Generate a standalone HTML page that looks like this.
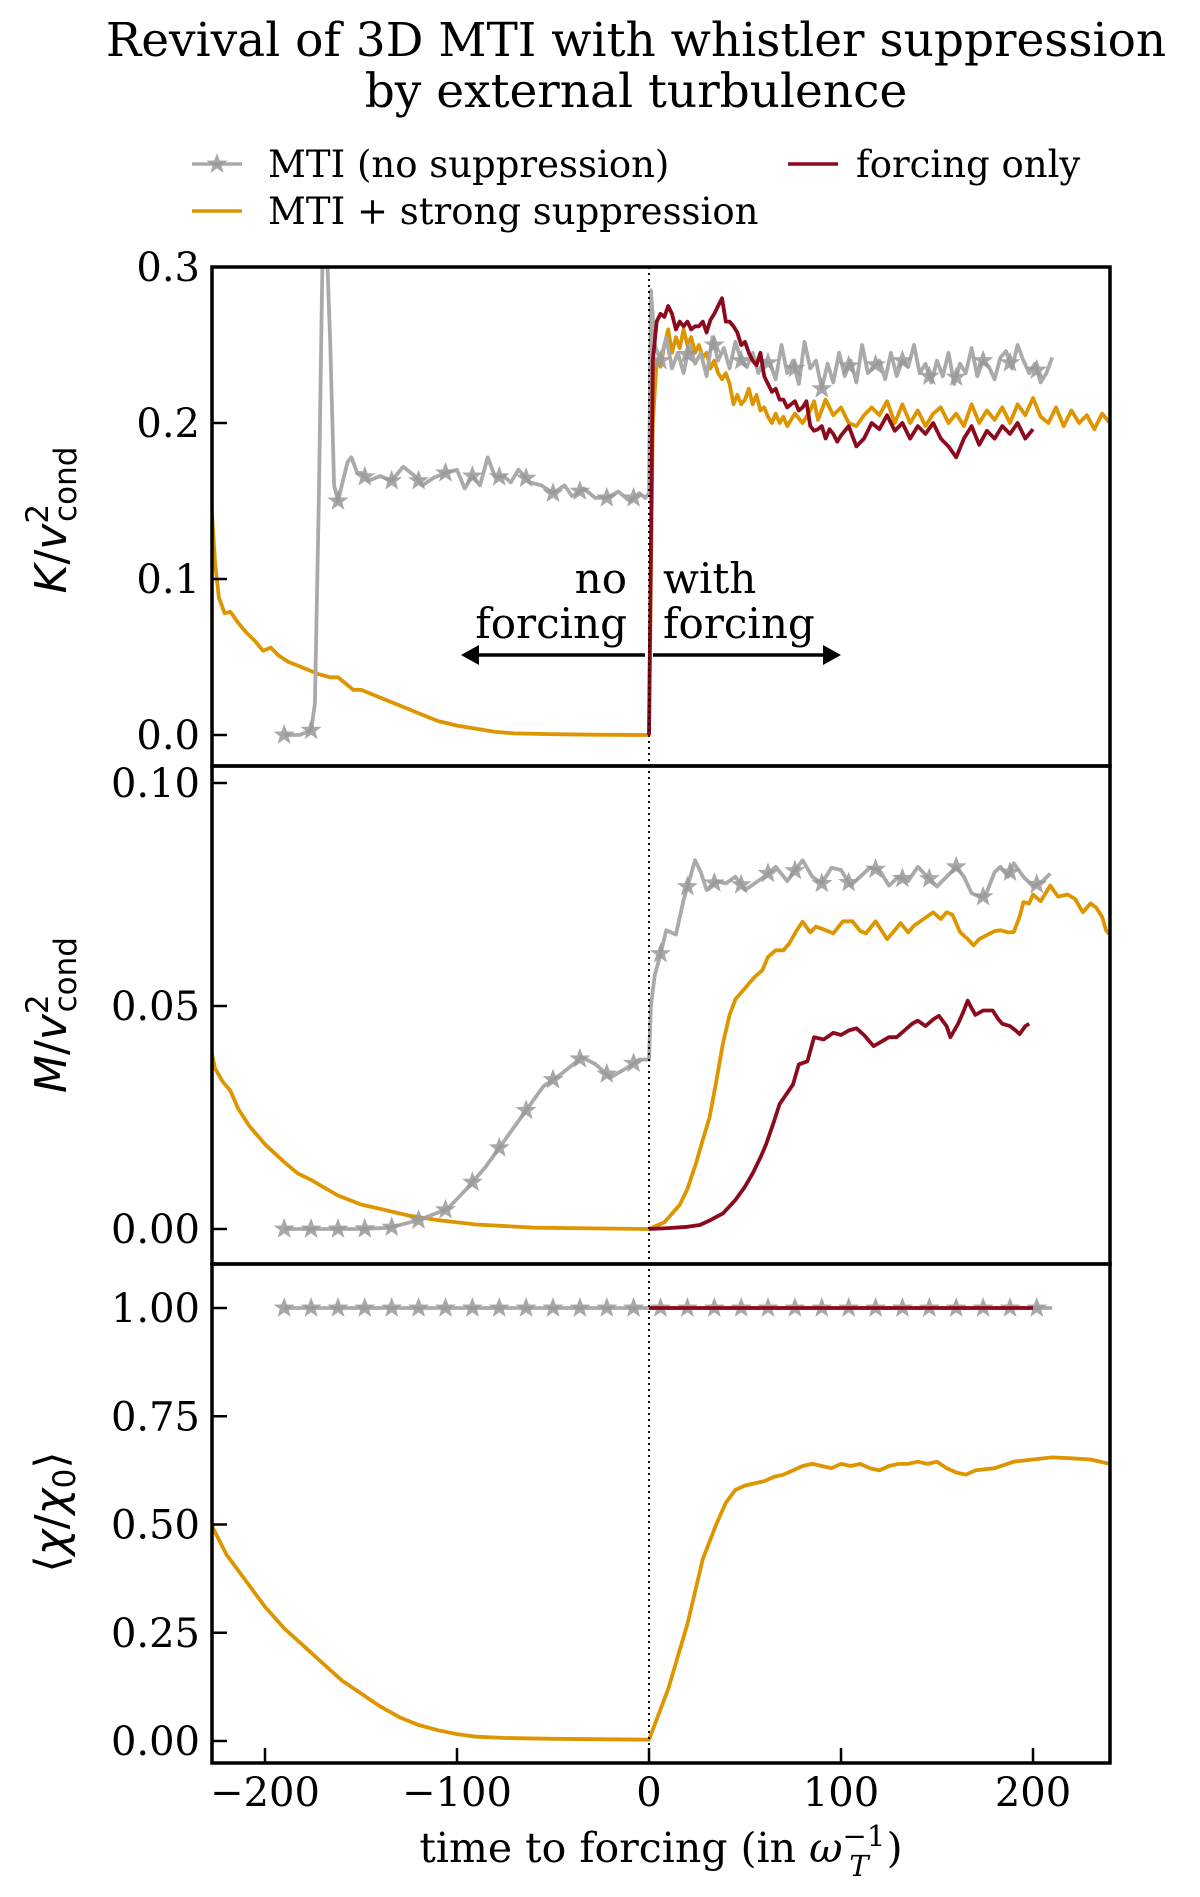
<!DOCTYPE html>
<html><head><meta charset="utf-8"><style>
html,body{margin:0;padding:0;background:#fff;}
svg{display:block;}
.serif{font-family:"DejaVu Serif","Liberation Serif",serif;}
</style></head><body>
<svg id="chart" width="1200" height="1897" viewBox="0 0 1200 1897" xmlns="http://www.w3.org/2000/svg">
<defs>
<clipPath id="c1"><rect x="212" y="267" width="898" height="499"/></clipPath>
<clipPath id="c2"><rect x="212" y="766" width="898" height="498"/></clipPath>
<clipPath id="c3"><rect x="212" y="1264" width="898" height="499"/></clipPath>
<path id="star" d="M0,-11 L2.8,-3.5 L10.5,-3.4 L4.4,1.3 L6.5,8.9 L0,4.4 L-6.5,8.9 L-4.4,1.3 L-10.5,-3.4 L-2.8,-3.5Z"/>
</defs>
<g class="serif" font-size="47" text-anchor="middle">
<text x="636" y="56">Revival of 3D MTI with whistler suppression</text>
<text x="636" y="107">by external turbulence</text>
</g>
<g class="serif" font-size="37">
<g>
<line x1="192" y1="164" x2="242" y2="164" stroke="#aaa" stroke-width="3.5"/>
<use href="#star" x="217" y="164" fill="#999" opacity="0.85"/>
<text x="268" y="177">MTI (no suppression)</text></g>
<g>
<line x1="788" y1="164" x2="838" y2="164" stroke="#8b0a1e" stroke-width="3.5"/>
<text x="856" y="177">forcing only</text></g>
<g>
<line x1="192" y1="211" x2="242" y2="211" stroke="#dd9500" stroke-width="3.5"/>
<text x="268" y="224">MTI + strong suppression</text></g>
</g>
<g id="plots"></g>
<g id="axes"></g>
<g class="serif" font-size="42">
<text x="627" y="593" text-anchor="end">no</text>
<text x="627" y="638" text-anchor="end">forcing</text>
<text x="663" y="593">with</text>
<text x="663" y="638">forcing</text>
<line x1="476" y1="655" x2="645" y2="655" stroke="#000" stroke-width="3.5"/>
<polygon points="461,655 479,645 479,665" fill="#000"/>
<line x1="653" y1="655" x2="826" y2="655" stroke="#000" stroke-width="3.5"/>
<polygon points="841,655 823,645 823,665" fill="#000"/>
</g>
<g font-family="DejaVu Sans, Liberation Sans, sans-serif" font-size="44">
<text transform="translate(66,520) rotate(-90)" text-anchor="middle"><tspan font-style="italic">K</tspan>/<tspan font-style="italic">v</tspan><tspan font-size="31" dy="-18">2</tspan><tspan font-size="31" dx="-18" dy="28">cond</tspan></text>
<text transform="translate(66,1015) rotate(-90)" text-anchor="middle"><tspan font-style="italic">M</tspan>/<tspan font-style="italic">v</tspan><tspan font-size="31" dy="-18">2</tspan><tspan font-size="31" dx="-18" dy="28">cond</tspan></text>
<text transform="translate(66,1512) rotate(-90)" text-anchor="middle">⟨<tspan font-style="italic">χ</tspan>/<tspan font-style="italic">χ</tspan><tspan font-size="31" dy="9">0</tspan><tspan dy="-9">⟩</tspan></text>
</g>
<text class="serif" x="661" y="1862" font-size="41" text-anchor="middle">time to forcing (in <tspan font-style="italic">ω</tspan><tspan font-size="29" dy="-16">−1</tspan><tspan font-size="29" font-style="italic" dx="-36" dy="30">T</tspan><tspan dx="18" dy="-14">)</tspan></text>
</svg>
<script>
// ---- data ----
var xTicks=[-200,-100,0,100,200];
var kTicks=[0.0,0.1,0.2,0.3];
var kTickLabels=["0.0","0.1","0.2","0.3"];
var mTicks=[0.0,0.05,0.10];
var mTickLabels=["0.00","0.05","0.10"];
var cTicks=[0,0.25,0.5,0.75,1.0];
var cTickLabels=["0.00","0.25","0.50","0.75","1.00"];

var kGray=[[-190,0],[-182,0],[-176,0.003],[-174,0.02],[-172,0.15],[-170,0.31],[-168,0.32],[-166,0.25],[-164,0.16],[-162,0.15],[-160,0.16],[-157,0.175],[-155,0.178],[-152,0.168],[-150,0.168],[-146,0.163],[-140,0.166],[-134,0.163],[-128,0.172],[-122,0.166],[-118,0.16],[-112,0.165],[-106,0.168],[-100,0.17],[-96,0.158],[-92,0.166],[-88,0.16],[-84,0.178],[-80,0.165],[-76,0.166],[-72,0.162],[-68,0.17],[-62,0.162],[-56,0.16],[-50,0.155],[-44,0.16],[-40,0.153],[-34,0.158],[-28,0.152],[-22,0.152],[-16,0.156],[-10,0.15],[-5,0.155],[-2,0.152],[0,0.155],
[1,0.285],[3,0.25],[6,0.24],[9,0.255],[12,0.235],[15,0.245],[18,0.232],[21,0.25],[24,0.238],[27,0.245],[30,0.23],[33,0.255],[36,0.24],[39,0.248],[42,0.235],[45,0.252],[48,0.24],[51,0.236],[54,0.245],[57,0.232],[60,0.24],[63,0.238],[66,0.228],[69,0.25],[72,0.232],[75,0.24],[78,0.225],[81,0.252],[84,0.235],[87,0.24],[90,0.222],[93,0.238],[96,0.226],[99,0.245],[102,0.23],[105,0.24],[108,0.226],[111,0.25],[114,0.232],[117,0.236],[120,0.24],[123,0.228],[126,0.245],[129,0.23],[132,0.24],[135,0.236],[138,0.25],[141,0.232],[144,0.238],[147,0.226],[150,0.24],[153,0.23],[156,0.245],[159,0.225],[162,0.238],[165,0.232],[168,0.248],[171,0.23],[174,0.24],[177,0.236],[180,0.228],[183,0.242],[186,0.246],[189,0.235],[192,0.25],[195,0.24],[198,0.232],[201,0.238],[204,0.226],[207,0.232],[210,0.242]];
var kOrange=[[-228,0.15],[-226,0.11],[-224,0.088],[-221,0.078],[-218,0.079],[-214,0.072],[-210,0.066],[-205,0.06],[-201,0.054],[-197,0.056],[-193,0.051],[-188,0.047],[-180,0.043],[-172,0.039],[-166,0.037],[-162,0.037],[-158,0.033],[-154,0.029],[-150,0.029],[-140,0.024],[-130,0.019],[-120,0.014],[-110,0.009],[-100,0.006],[-90,0.004],[-80,0.002],[-70,0.001],[-50,0.0005],[-30,0.0002],[0,0],
[1,0.1],[2,0.2],[4,0.24],[6,0.236],[8,0.25],[10,0.26],[12,0.245],[14,0.255],[16,0.248],[18,0.26],[20,0.25],[22,0.255],[24,0.245],[26,0.25],[28,0.242],[30,0.245],[32,0.235],[34,0.24],[36,0.232],[38,0.228],[40,0.232],[42,0.225],[44,0.212],[46,0.218],[48,0.212],[50,0.215],[52,0.222],[54,0.212],[56,0.218],[58,0.208],[60,0.21],[62,0.204],[64,0.2],[66,0.206],[68,0.2],[70,0.204],[72,0.198],[76,0.206],[80,0.2],[84,0.208],[86,0.214],[88,0.202],[92,0.215],[96,0.205],[100,0.21],[104,0.2],[108,0.198],[112,0.205],[116,0.21],[120,0.205],[124,0.214],[128,0.2],[132,0.212],[136,0.2],[140,0.208],[144,0.198],[148,0.206],[152,0.21],[156,0.2],[160,0.206],[164,0.198],[168,0.212],[172,0.2],[176,0.208],[180,0.202],[184,0.21],[188,0.2],[192,0.212],[196,0.205],[200,0.216],[204,0.204],[208,0.2],[212,0.21],[216,0.198],[220,0.208],[224,0.2],[228,0.205],[232,0.196],[236,0.206],[240,0.2]];
var kRed=[[0,0],[2,0.24],[4,0.265],[6,0.27],[8,0.268],[10,0.275],[12,0.27],[14,0.26],[16,0.265],[18,0.262],[20,0.265],[22,0.26],[24,0.262],[26,0.262],[28,0.265],[30,0.258],[32,0.266],[34,0.27],[36,0.275],[38,0.28],[40,0.265],[42,0.265],[44,0.262],[46,0.258],[48,0.25],[50,0.252],[52,0.245],[54,0.24],[56,0.237],[58,0.245],[60,0.23],[62,0.225],[64,0.22],[66,0.222],[68,0.215],[70,0.215],[72,0.21],[74,0.212],[76,0.214],[78,0.208],[80,0.21],[82,0.214],[84,0.198],[86,0.195],[88,0.196],[90,0.198],[92,0.19],[94,0.196],[96,0.193],[98,0.188],[100,0.192],[104,0.198],[108,0.185],[112,0.19],[116,0.2],[120,0.196],[124,0.205],[128,0.195],[132,0.2],[136,0.19],[140,0.198],[144,0.193],[148,0.2],[152,0.19],[156,0.185],[160,0.178],[164,0.19],[168,0.198],[172,0.186],[176,0.195],[180,0.19],[184,0.198],[188,0.193],[192,0.2],[196,0.19],[200,0.196]];

var mGray=[[-190,0],[-175,0],[-165,0],[-150,0],[-135,0.0003],[-120,0.002],[-105,0.0045],[-95,0.009],[-85,0.014],[-75,0.02],[-65,0.026],[-55,0.032],[-45,0.035],[-35,0.0385],[-28,0.037],[-20,0.034],[-12,0.036],[-5,0.038],[0,0.038],[1,0.05],[3,0.057],[5,0.06],[9,0.067],[14,0.066],[18,0.0738],[24,0.0827],[27,0.08],[30,0.076],[35,0.078],[40,0.0775],[45,0.079],[50,0.076],[55,0.0775],[60,0.079],[66,0.0812],[72,0.078],[80,0.0827],[85,0.079],[90,0.0775],[95,0.081],[100,0.0805],[105,0.077],[110,0.079],[115,0.081],[120,0.0805],[125,0.077],[130,0.079],[135,0.078],[140,0.0812],[145,0.079],[150,0.0768],[155,0.079],[160,0.0812],[164,0.079],[168,0.0753],[172,0.0745],[175,0.0745],[180,0.08],[183,0.0812],[187,0.079],[190,0.082],[195,0.079],[200,0.0768],[205,0.078],[209,0.0797]];
var mOrange=[[-228,0.04],[-226,0.036],[-222,0.033],[-218,0.031],[-214,0.027],[-208,0.023],[-200,0.019],[-195,0.017],[-190,0.015],[-183,0.0125],[-176,0.011],[-170,0.0095],[-162,0.0075],[-150,0.0055],[-140,0.0045],[-125,0.003],[-110,0.002],[-90,0.001],[-60,0.0003],[0,0],[8,0.0015],[16,0.0054],[20,0.009],[24.5,0.0147],[28,0.02],[31.5,0.025],[35,0.033],[38.5,0.0416],[42,0.048],[45,0.0515],[48,0.053],[52,0.055],[55,0.0565],[59,0.058],[62,0.061],[66,0.0625],[70,0.0625],[73,0.064],[77,0.067],[80,0.0689],[84,0.0665],[87,0.0678],[92,0.067],[96,0.0663],[101,0.069],[106,0.069],[110,0.0668],[113,0.0663],[118,0.069],[124,0.065],[128,0.067],[131,0.0686],[135,0.0665],[138,0.068],[143,0.0695],[148,0.071],[152,0.0695],[155,0.071],[158,0.0705],[162,0.0666],[166,0.065],[169,0.0636],[172,0.065],[176,0.0659],[180,0.0668],[183,0.067],[187,0.0665],[190,0.0666],[193,0.07],[195,0.0733],[198,0.073],[200,0.075],[204,0.0735],[209,0.077],[213,0.0745],[218,0.075],[222,0.074],[226,0.071],[230,0.073],[233,0.072],[236,0.07],[238,0.067],[240,0.066]];
var mRed=[[0,0],[10,0.0002],[20,0.0005],[26.5,0.0009],[32,0.002],[38.5,0.0035],[45,0.0065],[50,0.0095],[54,0.0125],[58,0.016],[61,0.019],[65,0.024],[68,0.028],[72,0.0305],[75,0.0324],[78,0.0369],[82.5,0.0376],[86,0.043],[91,0.0425],[96,0.044],[100,0.0435],[104,0.0445],[108,0.045],[112,0.0435],[117,0.041],[121,0.042],[125,0.043],[129,0.043],[133,0.0445],[137,0.046],[140,0.0467],[144,0.0455],[148,0.047],[151,0.0478],[155,0.0455],[157,0.043],[161,0.046],[164,0.049],[166,0.0512],[168,0.0495],[170,0.048],[174,0.049],[179,0.049],[182,0.047],[184,0.046],[188,0.0455],[191,0.0445],[193,0.0437],[196,0.0455],[198,0.046]];

var cGray=[[-190,1],[0,1],[210,1]];
var cRed=[[0,1],[200,1]];
var cOrange=[[-228,0.5],[-220,0.43],[-210,0.37],[-200,0.31],[-190,0.26],[-180,0.22],[-170,0.18],[-160,0.14],[-150,0.11],[-140,0.08],[-130,0.055],[-120,0.037],[-110,0.025],[-100,0.016],[-90,0.01],[-75,0.007],[-50,0.005],[-20,0.004],[0,0.003],[10,0.12],[20,0.27],[28,0.42],[35,0.5],[40,0.55],[45,0.58],[50,0.59],[55,0.595],[60,0.6],[65,0.61],[70,0.615],[75,0.625],[80,0.635],[85,0.64],[90,0.635],[95,0.63],[100,0.64],[105,0.635],[110,0.64],[115,0.63],[120,0.625],[125,0.635],[130,0.64],[135,0.64],[140,0.645],[145,0.64],[150,0.645],[155,0.63],[160,0.62],[165,0.615],[170,0.625],[180,0.63],[190,0.645],[200,0.65],[210,0.655],[220,0.653],[230,0.65],[240,0.64]];
var starStep=14;

// ---- axis functions ----
var NS="http://www.w3.org/2000/svg";
var X0=212,X1=1110,TMIN=-227.6,TMAX=240.1;
function xs(t){return X0+(t-TMIN)/(TMAX-TMIN)*(X1-X0);}
var panels=[
 {top:267,bot:766,zero:735,scale:1560,clip:"c1"},
 {top:766,bot:1264,zero:1229,scale:4460,clip:"c2"},
 {top:1264,bot:1763,zero:1741,scale:433,clip:"c3"}];
function ys(p,v){return p.zero-v*p.scale;}
function mk(tag,attrs,parent){var e=document.createElementNS(NS,tag);for(var k in attrs)e.setAttribute(k,attrs[k]);parent.appendChild(e);return e;}
function interp(d,t){for(var i=1;i<d.length;i++){if(d[i][0]>=t){var a=d[i-1],b=d[i];var f=(t-a[0])/(b[0]-a[0]||1);return a[1]+f*(b[1]-a[1]);}}return d[d.length-1][1];}
var plots=document.getElementById('plots');
var axes=document.getElementById('axes');

function drawLine(p,d,color,name){
 var g=mk('g',{'clip-path':'url(#'+p.clip+')'},plots);
 var s=d.map(function(q,i){return (i?'L':'M')+xs(q[0]).toFixed(1)+','+ys(p,q[1]).toFixed(1);}).join(' ');
 var path=mk('path',{d:s,fill:'none',stroke:color,'stroke-width':3.8,'stroke-linejoin':'round'},g);
 
 
 return g;
}
function drawStars(p,d,name){
 var g=mk('g',{'clip-path':'url(#'+p.clip+')'},plots);
 for(var t=d[0][0];t<=d[d.length-1][0]+0.01;t+=starStep){
  var u=mk('use',{href:'#star',x:xs(t).toFixed(1),y:ys(p,interp(d,t)).toFixed(1),fill:'#999',opacity:0.85},g);
  
  
 }
}
var P1=panels[0],P2=panels[1],P3=panels[2];
drawLine(P1,kOrange,'#dd9500','k-strong-suppression-line');
drawLine(P1,kGray,'#aaaaaa','k-no-suppression-line');
drawStars(P1,kGray,'k-no-suppression-marker');
drawLine(P1,kRed,'#8b0a1e','k-forcing-only-line');
drawLine(P2,mOrange,'#dd9500','m-strong-suppression-line');
drawLine(P2,mGray,'#aaaaaa','m-no-suppression-line');
drawStars(P2,mGray,'m-no-suppression-marker');
drawLine(P2,mRed,'#8b0a1e','m-forcing-only-line');
drawLine(P3,cOrange,'#dd9500','chi-strong-suppression-line');
drawLine(P3,cGray,'#aaaaaa','chi-no-suppression-line');
drawStars(P3,cGray,'chi-no-suppression-marker');
drawLine(P3,cRed,'#8b0a1e','chi-forcing-only-line');

var vl=mk('line',{x1:xs(0),x2:xs(0),y1:267,y2:1763,stroke:'#000','stroke-width':2,'stroke-dasharray':'2,4'},axes);



function yTicks(p,vals,labels,name){
 vals.forEach(function(v,i){
  var y=ys(p,v);
  mk('line',{x1:X0,x2:X0+15,y1:y,y2:y,stroke:'#000','stroke-width':2.5},axes);
  var t=mk('text',{x:200,y:y+14,'text-anchor':'end','font-size':40,'class':'serif'},axes);
  t.textContent=labels[i];
  
  
 });
}
yTicks(P1,kTicks,kTickLabels,'k-axis');
yTicks(P2,mTicks,mTickLabels,'m-axis');
yTicks(P3,cTicks,cTickLabels,'chi-axis');
xTicks.forEach(function(v){
 var x=xs(v);
 mk('line',{x1:x,x2:x,y1:1763,y2:1748,stroke:'#000','stroke-width':2.5},axes);
 var t=mk('text',{x:x,y:1806,'text-anchor':'middle','font-size':40,'class':'serif'},axes);
 t.textContent=(v<0?'\u2212'+(-v):String(v));
 
 
});
panels.forEach(function(p,i){
 var r=mk('rect',{x:X0,y:p.top,width:X1-X0,height:p.bot-p.top,fill:'none',stroke:'#000','stroke-width':3.5},axes);
 
 
});
</script>
</body></html>
